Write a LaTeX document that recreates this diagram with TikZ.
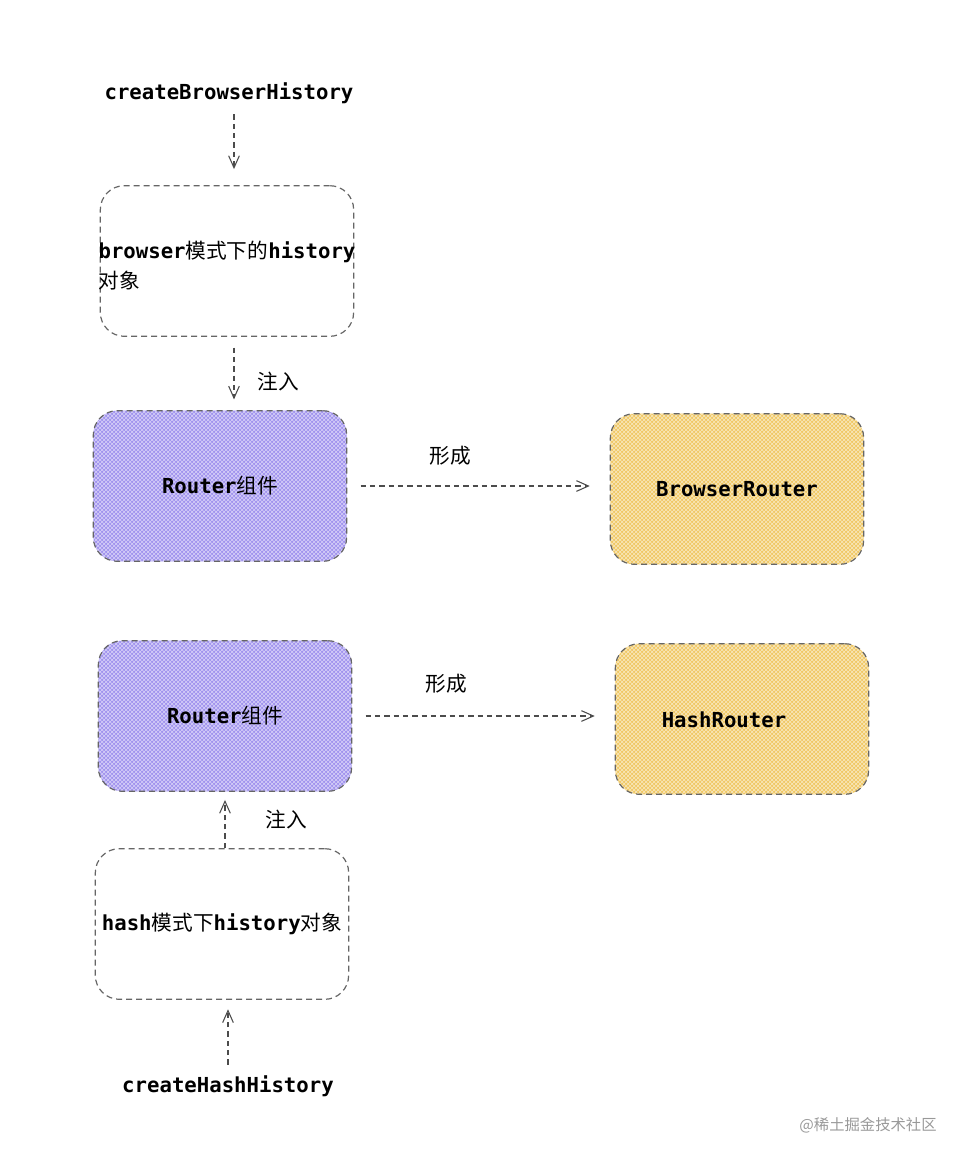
\documentclass[tikz,border=0pt]{standalone}
\usepackage{fontspec}
\setmonofont{DejaVu Sans Mono}
\newfontfamily\cjk{Noto Sans CJK SC}
\usetikzlibrary{arrows.meta,patterns}

\newcommand\zh[1]{{\cjk\mdseries #1}}
\newcommand\lab{\fontsize{15.5}{22.5}\selectfont\ttfamily\bfseries}
\definecolor{purp}{RGB}{160,146,238}
\definecolor{sand}{RGB}{240,200,100}

\tikzset{
  box/.style={draw=black!60,dash pattern=on 4.5pt off 3pt,line width=0.9pt,
    rounded corners=18pt,minimum width=190pt,minimum height=113pt,font=\lab},
  filled/.style={box,preaction={fill=#1},pattern=crosshatch,pattern color=white!60!#1},
  flow/.style={draw=black!70,line width=0.8pt,dash pattern=on 4pt off 3pt,
    -{Straight Barb[length=9pt,width=8pt]}},
  txt/.style={font=\lab,inner sep=2pt},
}

\begin{document}
\begin{tikzpicture}[x=0.75pt,y=-0.75pt]
  \useasboundingbox (0,0) rectangle (978,1164);

  % Browser side
  \node[txt] (cbh) at (229,93) {createBrowserHistory};
  \node[box] (hist1) at (227,261) {};
  \node[txt,align=left] (hist1t) at (227,266) {browser\zh{模式下的}history\\\zh{对象}};
  \node[filled=purp] (router1) at (220,486) {Router\zh{组件}};
  \node[filled=sand] (brouter) at (737,489) {BrowserRouter};

  % Hash side
  \node[filled=purp] (router2) at (225,716) {Router\zh{组件}};
  \node[filled=sand] (hrouter) at (742,719) {};
  \node[txt] (hroutert) at (724,720) {HashRouter};
  \node[box] (hist2) at (222,924) {hash\zh{模式下}history\zh{对象}};
  \node[txt] (chh) at (228,1086) {createHashHistory};

  % Arrows
  \draw[flow,shorten <=6pt,shorten >=12pt] (cbh.south -| 234,0) -- (hist1.north -| 234,0);
  \draw[flow,shorten <=8pt,shorten >=8pt] (hist1.south -| 234,0) -- (router1.north -| 234,0)
    node[midway,right=14pt,yshift=-6pt,font=\lab] {\zh{注入}};
  \draw[flow,shorten <=10pt,shorten >=15pt] (router1.east) -- (router1.east -| brouter.west)
    node[midway,above=12pt,xshift=-21pt,font=\lab] {\zh{形成}};
  \draw[flow,shorten <=10pt,shorten >=15pt] (router2.east) -- (router2.east -| hrouter.west)
    node[midway,above=13pt,xshift=-28pt,font=\lab] {\zh{形成}};
  \draw[flow,shorten >=6pt] (hist2.north -| 225,0) -- (router2.south -| 225,0)
    node[midway,right=27pt,font=\lab] {\zh{注入}};
  \draw[flow,shorten <=6pt,shorten >=7pt] (chh.north -| 228,0) -- (hist2.south -| 228,0);

  % Watermark
  \node[font=\cjk\fontsize{11.5}{14}\selectfont,text=black!40] (mark) at (868,1125) {@稀土掘金技术社区};
\end{tikzpicture}
\end{document}
